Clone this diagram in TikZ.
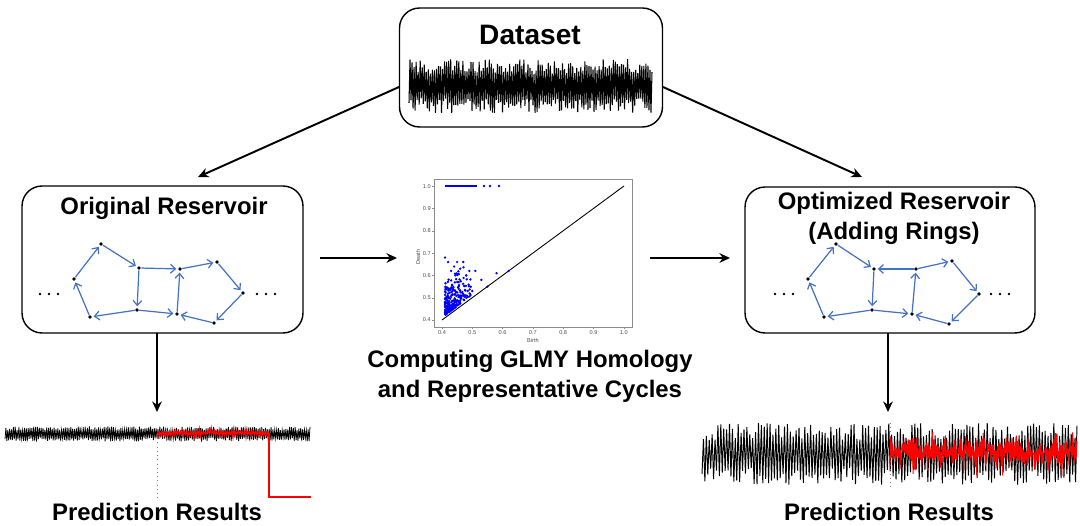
\documentclass[tikz,border=0pt]{standalone}
\usepackage{fontspec}
\setmainfont{Liberation Sans}
\usetikzlibrary{arrows.meta}
\definecolor{edgeblue}{RGB}{68,114,196}
\tikzset{
  box/.style={draw, line width=0.8pt, rounded corners=0.4cm, inner sep=0pt},
  title/.style={font=\fontsize{13.6}{17}\selectfont\bfseries, anchor=base, inner sep=0pt},
  bigtitle/.style={font=\fontsize{16}{19}\selectfont\bfseries, anchor=base, inner sep=0pt},
  flow/.style={-{Stealth[length=6pt,width=5.5pt]}, line width=1.1pt},
  vtx/.style={circle, fill=black, inner sep=0pt, minimum size=2.2pt},
  edge/.style={edgeblue, line width=0.7pt, -{Straight Barb[length=2.8pt,width=5pt]}, shorten >=0.8pt},
  ticklab/.style={font=\fontsize{3.2}{3.2}\selectfont, text=black!70, inner sep=0.5pt},
}
\begin{document}
\begin{tikzpicture}[x=0.02cm,y=-0.02cm]
\useasboundingbox (0,0) rectangle (1080,526);
\pgfmathsetseed{42}
%
% boxes and titles
\node[box, minimum width=5.26cm, minimum height=2.38cm] (data) at (531,67.5) {};
\node[bigtitle] (data-t) at (530,45) {Dataset};
\node[box, minimum width=5.62cm, minimum height=2.94cm] (orig) at (162.5,259.5) {};
\node[title] (orig-t) at (164,215) {Original Reservoir};
\node[box, minimum width=5.8cm, minimum height=2.92cm] (opt) at (890,260) {};
\node[title] (opt-t) at (894,210) {Optimized Reservoir};
\node[title] (opt-t2) at (894,240) {(Adding Rings)};
\node[title] (glmy-t) at (530,368) {Computing GLMY Homology};
\node[title] (glmy-t2) at (530,398) {and Representative Cycles};
\node[title] (pred-l) at (157,521) {Prediction Results};
\node[title] (pred-r) at (889,521) {Prediction Results};
%
% dataset signal
\draw[line width=0.6pt] plot[samples=240, domain=0:239, variable=\t]
  ({409+\t*1.01674},{86+(1-2*mod(round(\t),2))*(12+15*rnd)});
%
% flow arrows
\coordinate (d-l) at (399,87);
\coordinate (d-r) at (663,87);
\coordinate (o-in) at (198,177);
\coordinate (p-in) at (862,177);
\coordinate (o-out) at (320,258);
\coordinate (pd-in) at (397,258);
\coordinate (pd-out) at (650,258);
\coordinate (p-in2) at (730,258);
\coordinate (o-dn) at (157,333);
\coordinate (o-res) at (157,412);
\coordinate (p-dn) at (888,333);
\coordinate (p-res) at (888,412);
\draw[flow] (d-l) -- (o-in);
\draw[flow] (d-r) -- (p-in);
\draw[flow] (o-out) -- (pd-in);
\draw[flow] (pd-out) -- (p-in2);
\draw[flow] (o-dn) -- (o-res);
\draw[flow] (p-dn) -- (p-res);
%
% original reservoir
\node[vtx] (oa) at (101,244) {};
\node[vtx] (ob) at (74,279) {};
\node[vtx] (oc) at (90,317) {};
\node[vtx] (od) at (139,268) {};
\node[vtx] (oe) at (137,310) {};
\node[vtx] (of) at (180,269) {};
\node[vtx] (og) at (177,314) {};
\node[vtx] (oh) at (217,262) {};
\node[vtx] (oi) at (243,293) {};
\node[vtx] (oj) at (214,323) {};
\draw[edge] (ob) -- (oa);
\draw[edge] (oa) -- (od);
\draw[edge] (od) -- (of);
\draw[edge] (od) -- (oe);
\draw[edge] (oe) -- (oc);
\draw[edge] (oc) -- (ob);
\draw[edge] (oe) -- (og);
\draw[edge] (og) -- (of);
\draw[edge] (of) -- (oh);
\draw[edge] (oh) -- (oi);
\draw[edge] (oi) -- (oj);
\draw[edge] (oj) -- (og);
\foreach \x in {40,49,58,257,266,275}
  \fill (\x,294) circle[radius=0.8pt];
%
% optimized reservoir
\node[vtx] (pa) at (836,244) {};
\node[vtx] (pb) at (808,279) {};
\node[vtx] (pc) at (824,317) {};
\node[vtx] (pd) at (874,269) {};
\node[vtx] (pe) at (872,310) {};
\node[vtx] (pf) at (916,269) {};
\node[vtx] (pg) at (912,314) {};
\node[vtx] (ph) at (952,261) {};
\node[vtx] (pi) at (979,294) {};
\node[vtx] (pj) at (949,324) {};
\draw[edge] (pb) -- (pa);
\draw[edge] (pa) -- (pd);
\draw[edge] (pf) -- (pd);
\draw[edge] (pd) -- (pe);
\draw[edge] (pe) -- (pc);
\draw[edge] (pc) -- (pb);
\draw[edge] (pe) -- (pg);
\draw[edge] (pg) -- (pf);
\draw[edge] (pf) -- (ph);
\draw[edge] (ph) -- (pi);
\draw[edge] (pi) -- (pj);
\draw[edge] (pj) -- (pg);
\foreach \x in {775,784,793,991,1000,1009}
  \fill (\x,294) circle[radius=0.8pt];
%
% persistence diagram
\node[draw=black!45, line width=0.3pt, minimum width=3.96cm, minimum height=2.96cm, inner sep=0pt] (pdgm) at (533,253) {};
\foreach \v [count=\k from 0] in {0.4,0.5,0.6,0.7,0.8,0.9,1.0}{
  \draw[black!45, line width=0.2pt] (434,320-22.3*\k) -- ++(-2,0);
  \node[ticklab, anchor=east] at (432,320-22.3*\k) {\v};
  \draw[black!45, line width=0.2pt] (442+30.3*\k,327) -- ++(0,2);
  \node[ticklab, anchor=north] at (442+30.3*\k,329) {\v};
}
\node[ticklab, rotate=90] (pdgm-y) at (418,257) {Death};
\node[ticklab] (pdgm-x) at (533,340) {Birth};
\draw[black, line width=0.5pt] (442,320) -- (624,186);
\draw[blue, line width=1.6pt] (445,186) -- (477,186);
\foreach \bx in {484,490,499}
  \fill[blue] (\bx,186) circle[radius=0.8pt];
\foreach \i in {1,...,260}{
  \pgfmathsetmacro\brt{0.41+0.1*rnd*rnd}
  \pgfmathsetmacro\dth{\brt+0.012+0.17*rnd*rnd}
  \fill[blue] ({442+303*(\brt-0.4)},{320-223*(\dth-0.4)}) circle[radius=0.75pt];
}
\foreach \bb/\dd in {0.41/0.68,0.42/0.66,0.45/0.66,0.47/0.66,0.43/0.62,0.46/0.63,0.51/0.62,0.53/0.58,0.58/0.61,0.62/0.62,0.5/0.53,0.55/0.55,0.48/0.6,0.49/0.62,0.44/0.64}
  \fill[blue] ({442+303*(\bb-0.4)},{320-223*(\dd-0.4)}) circle[radius=0.75pt];
%
% left prediction
\draw[line width=0.45pt] plot[samples=330, domain=0:329, variable=\t]
  ({5+\t*0.92705},{434+(1-2*mod(round(\t),2))*(3.5+4*rnd)});
\draw[black!50, dotted, line width=0.4pt] (157,434) -- (157,500);
\draw[red, line width=0.55pt] plot[samples=120, domain=0:119, variable=\t]
  ({157+\t*0.94118},{433+(1-2*mod(round(\t),2))*(1+4*rnd*rnd)});
\draw[red, line width=0.6pt] (269,433) -- (269,497) -- (311,497);
%
% right prediction
\draw[line width=0.55pt] plot[samples=260, domain=0:259, variable=\t]
  ({702+\t*1.44788},{454+(1-2*mod(round(\t),2))*(14+17*rnd)});
\draw[black!50, dotted, line width=0.4pt] (890,423) -- (890,490);
\draw[red, line width=0.55pt] plot[samples=260, domain=0:259, variable=\t]
  ({890+\t*0.72201},{452+8*rand+(1-2*mod(round(\t),2))*(4+14*rnd*rnd)});
\end{tikzpicture}
\end{document}
